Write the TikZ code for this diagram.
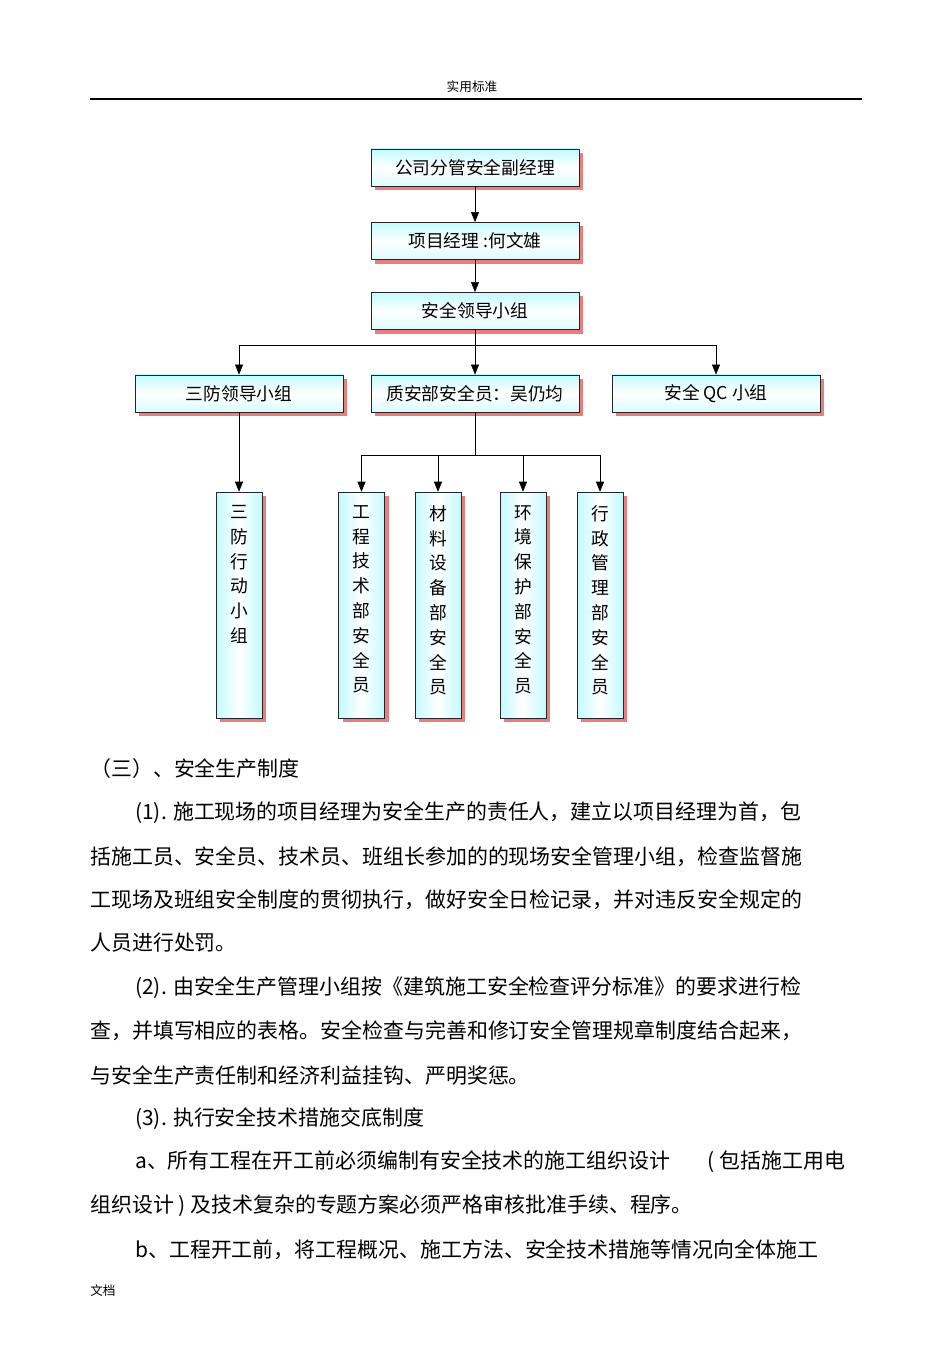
\documentclass[tikz,border=0pt]{standalone}
\usepackage{fontspec}
\setmainfont{Noto Sans CJK SC}
\usetikzlibrary{arrows.meta,shadows}
\definecolor{boxcyan}{RGB}{195,250,255}
\definecolor{shadowred}{RGB}{235,125,125}
\tikzset{
  hbox/.style={draw=black!85, top color=boxcyan, bottom color=boxcyan!60, middle color=white,
    minimum width=156pt, minimum height=28pt, inner sep=0pt, font=\fontsize{13.3}{15}\selectfont,
    drop shadow={fill=shadowred, opacity=1, shadow xshift=3pt, shadow yshift=-3pt}},
  vbox/.style={hbox, left color=boxcyan, right color=boxcyan, middle color=white,
    minimum width=34.5pt, minimum height=169.5pt},
  arr/.style={-{Triangle[length=7.5pt,width=6pt]}},
  body/.style={anchor=west, inner sep=0pt, font=\fontsize{15.7}{18}\selectfont}
}
\newcommand{\vtext}[1]{\parbox[c][169.5pt][t]{20pt}{\centering\fontsize{13.3}{18.6}\selectfont\vspace*{10pt}#1}}
\begin{document}
\begin{tikzpicture}[x=0.75pt,y=-0.75pt]
  \useasboundingbox (0,0) rectangle (950,1345);
  \fill[white] (0,0) rectangle (950,1345);
  % page header and footer
  \node[font=\fontsize{9.5}{10}\selectfont] (head) at (472,87) {实用标准};
  \draw[line width=1.8pt] (90,99) -- (862,99);
  \node[anchor=west, inner sep=0pt, font=\fontsize{9.5}{10}\selectfont] (foot) at (90,1291) {文档};
  % chart
  \node[hbox] (jingli) at (475,167.5) {公司分管安全副经理};
  \node[hbox] (xiangmu) at (475,241) {项目经理 :何文雄};
  \node[hbox] (lingdao) at (475,311) {安全领导小组};
  \node[hbox] (sanfang) at (239,393.5) {三防领导小组};
  \node[hbox] (zhian) at (475,393.5) {质安部安全员：吴仍均};
  \node[hbox] (qc) at (716,393.5) {安全 QC 小组};
  \foreach \x/\i/\t in {239/1/{三\\防\\行\\动\\小\\组},
      361.5/2/{工\\程\\技\\术\\部\\安\\全\\员},
      438/3/{材\\料\\设\\备\\部\\安\\全\\员},
      523/4/{环\\境\\保\\护\\部\\安\\全\\员},
      600/5/{行\\政\\管\\理\\部\\安\\全\\员}}
    \node[vbox] (v\i) at (\x,605) {\vtext{\t}};
  \coordinate (fen1) at (475,345);
  \coordinate (fen2) at (475,455);
  \draw[arr] (jingli) -- (xiangmu);
  \draw[arr] (xiangmu) -- (lingdao);
  \draw[arr] (lingdao) -- (zhian);
  \draw[arr] (fen1) -| (sanfang);
  \draw[arr] (fen1) -| (qc);
  \draw[arr] (sanfang) -- (v1);
  \draw (zhian) -- (fen2);
  \foreach \i in {2,...,5}
    \draw[arr] (fen2) -| (v\i);
  % text below the chart
  \foreach \x/\y/\i/\t in {90/769/0/{（三）、安全生产制度},
      135/813/1/{(1). 施工现场的项目经理为安全生产的责任人，建立以项目经理为首，包},
      90/857/2/{括施工员、安全员、技术员、班组长参加的的现场安全管理小组，检查监督施},
      90/900/3/{工现场及班组安全制度的贯彻执行，做好安全日检记录，并对违反安全规定的},
      90/943/4/{人员进行处罚。},
      135/988/5/{(2). 由安全生产管理小组按《建筑施工安全检查评分标准》的要求进行检},
      90/1031/6/{查，并填写相应的表格。安全检查与完善和修订安全管理规章制度结合起来，},
      90/1075/7/{与安全生产责任制和经济利益挂钩、严明奖惩。},
      135/1119/8/{(3). 执行安全技术措施交底制度},
      135/1162/9/{a、所有工程在开工前必须编制有安全技术的施工组织设计\hspace{28pt}( 包括施工用电},
      90/1206/10/{组织设计 ) 及技术复杂的专题方案必须严格审核批准手续、程序。},
      135/1250/11/{b、工程开工前，将工程概况、施工方法、安全技术措施等情况向全体施工}}
    \node[body] (line\i) at (\x,\y) {\t};
\end{tikzpicture}
\end{document}
